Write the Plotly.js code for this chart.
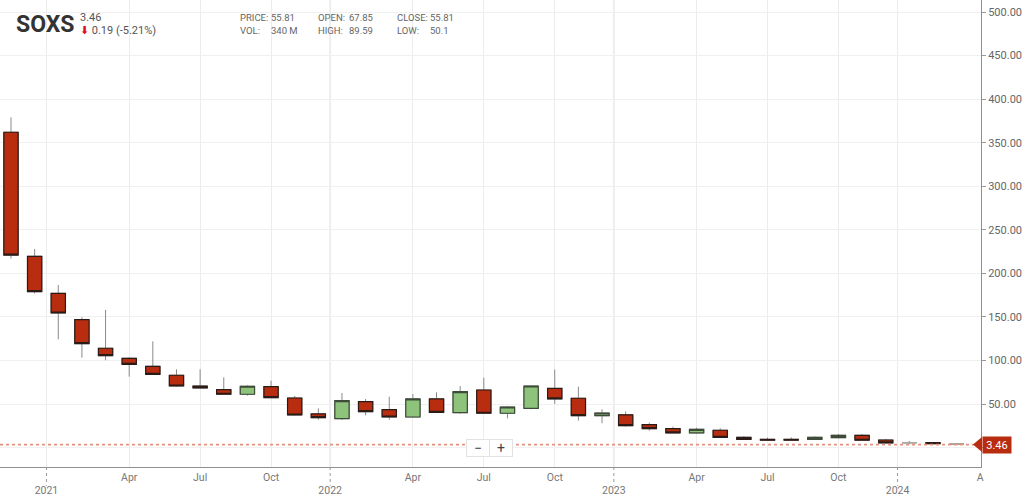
<!DOCTYPE html>
<html><head><meta charset="utf-8">
<script src="https://cdn.plot.ly/plotly-3.0.1.min.js"></script>
<style>html,body{margin:0;padding:0;background:#fff;} #chart{width:1024px;height:504px;}</style>
</head><body><div id="chart"></div>
<script>
// ---------- data (monthly candles, SOXS) ----------
const months = ['2020-11','2020-12','2021-01','2021-02','2021-03','2021-04','2021-05','2021-06','2021-07','2021-08','2021-09','2021-10',
  '2021-11','2021-12','2022-01','2022-02','2022-03','2022-04','2022-05','2022-06','2022-07','2022-08','2022-09','2022-10',
  '2022-11','2022-12','2023-01','2023-02','2023-03','2023-04','2023-05','2023-06','2023-07','2023-08','2023-09','2023-10',
  '2023-11','2023-12','2024-01','2024-02','2024-03'];
const openP  = [362, 219.6, 177, 146.8, 114, 102.5, 93.3, 83, 70.7, 66.5, 61.2, 70,
  56.9, 38.6, 33.2, 52.7, 43.5, 35.1, 55.8, 40.1, 66.1, 39.4, 45.1, 67.85,
  56.6, 36.6, 37.6, 26.3, 21.7, 16.8, 19.9, 11.8, 9.4, 9.4, 9.5, 11.4,
  14.1, 8.7, 5.6, 5.6, 4.1];
const highP  = [379, 228, 186.7, 149.6, 158, 103.7, 122, 89.9, 89.9, 80.7, 71.5, 76.8,
  59.2, 45.1, 62.7, 55.8, 58.4, 61.5, 63.5, 70.7, 80.2, 47.8, 71.1, 89.59,
  69.9, 44, 41.5, 28.6, 24, 22.8, 22.1, 13, 11.4, 11.8, 13, 15.6,
  15.6, 9.9, 7.6, 6.4, 5.3];
const lowP   = [217, 177, 124.3, 103.2, 100.2, 81.4, 83.5, 70, 68, 60.8, 59.6, 57,
  37, 32, 31.7, 37.1, 32, 34.5, 40, 38.9, 39, 33.6, 44, 50.1,
  30.9, 27.9, 24, 19.4, 16.5, 16, 11.5, 9.2, 8, 8.2, 9.3, 10.7,
  8.2, 5, 3.8, 4.3, 3.3];
const closeP = [221, 179, 154.5, 119.3, 105.5, 95.6, 84.1, 70.7, 68.4, 61.2, 70.4, 57.3,
  37.4, 34.3, 53.9, 41.2, 35.1, 55.8, 40.5, 64.2, 39.4, 46.6, 70.7, 55.81,
  36.6, 39.7, 25.1, 21.7, 16.8, 21, 11.8, 9.5, 8.4, 8.5, 11.8, 14.1,
  8.4, 5.3, 5.6, 4.5, 4.1];
const lastPrice = 3.46;
const symbol = 'SOXS';
const changeText = '0.19 (-5.21%)';
const infoLabels = ['PRICE:', 'VOL:', 'OPEN:', 'HIGH:', 'CLOSE:', 'LOW:'];
const infoValues = ['55.81', '340 M', '67.85', '89.59', '55.81', '50.1'];
const tickMonths = ['2021-01','2021-04','2021-07','2021-10','2022-01','2022-04','2022-07','2022-10',
  '2023-01','2023-04','2023-07','2023-10','2024-01','2024-04'];
const tickLabels = ['2021','Apr','Jul','Oct','2022','Apr','Jul','Oct','2023','Apr','Jul','Oct','2024','A'];
const yTicks = [0, 50, 100, 150, 200, 250, 300, 350, 400, 450, 500];

// ---------- helpers ----------
function monthIndex(m) {
  const [y0, m0] = months[0].split('-').map(Number);
  const [y, mm] = m.split('-').map(Number);
  return (y - y0) * 12 + (mm - m0);
}
const xIdx = months.map(monthIndex);
const isYear = tickMonths.map(m => m.endsWith('-01'));
const tickVals = tickMonths.map((m, k) => isYear[k] ? monthIndex(m) - 0.5 : monthIndex(m));
const tickText = tickLabels.map((t, k) => isYear[k] ? '<br>' + t : t);

const PW = 981, PH = 467; // plot area in px
const px = v => v / PW;
const py = v => (PH - v) / PH;

const RED = '#b82d0f', GREEN = '#8dc37a';

// wick layer (grey wicks)
const wicks = {
  type: 'candlestick', x: xIdx, open: openP, high: highP, low: lowP, close: closeP,
  increasing: {line: {color: '#8a8a8a', width: 1}, fillcolor: GREEN},
  decreasing: {line: {color: '#8a8a8a', width: 1}, fillcolor: RED},
  whiskerwidth: 0, hoverinfo: 'skip', showlegend: false
};
// body layer (dark outlines), non-flat candles
const bi = xIdx.filter((_, i) => openP[i] !== closeP[i]);
const bodies = {
  type: 'candlestick', x: bi,
  open: bi.map(i => openP[i]), close: bi.map(i => closeP[i]),
  high: bi.map(i => Math.max(openP[i], closeP[i])), low: bi.map(i => Math.min(openP[i], closeP[i])),
  increasing: {line: {color: '#3d4b38', width: 1.2}, fillcolor: GREEN},
  decreasing: {line: {color: '#2b1b16', width: 1.2}, fillcolor: RED},
  whiskerwidth: 0, hoverinfo: 'skip', showlegend: false
};
// flat candles (grey)
const fi = xIdx.filter((_, i) => openP[i] === closeP[i]);
const flats = {
  type: 'candlestick', x: fi,
  open: fi.map(i => openP[i]), close: fi.map(i => closeP[i]),
  high: fi.map(i => highP[i]), low: fi.map(i => lowP[i]),
  increasing: {line: {color: '#a8a8a8', width: 1.5}, fillcolor: '#cccccc'},
  decreasing: {line: {color: '#a8a8a8', width: 1.5}, fillcolor: '#cccccc'},
  whiskerwidth: 0, hoverinfo: 'skip', showlegend: false
};

const shapes = [];
// darker year gridlines + dotted year tick marks
tickVals.forEach((v, k) => {
  if (!isYear[k]) return;
  shapes.push({type: 'line', xref: 'x', yref: 'paper', x0: v, x1: v, y0: 0, y1: 1, layer: 'between',
    line: {color: '#d6d6d6', width: 1}});
  shapes.push({type: 'line', xref: 'x', yref: 'paper', x0: v, x1: v, y0: 0, y1: -0.04, layer: 'above',
    line: {color: '#999', width: 1, dash: 'dot'}});
});
// white header box
shapes.push({type: 'rect', xref: 'paper', yref: 'paper', x0: 0, x1: px(157), y0: py(45), y1: py(3),
  fillcolor: '#ffffff', line: {width: 0}, layer: 'between'});
// last price dashed line
shapes.push({type: 'line', xref: 'paper', yref: 'y', x0: 0, x1: 1, y0: lastPrice, y1: lastPrice,
  line: {color: '#e5947f', width: 1.8, dash: '3px,3px'}, layer: 'above'});
// price tag pointer
shapes.push({type: 'path', xref: 'paper', yref: 'y',
  path: `M ${px(973)},${lastPrice} L ${px(982)},${lastPrice + 8.6} L ${px(982)},${lastPrice - 8.6} Z`,
  fillcolor: RED, line: {width: 0}, layer: 'above'});

const F = 'Roboto, Arial, sans-serif';
const annotations = [
  {text: '<b>' + symbol + '</b>', xref: 'paper', yref: 'paper', x: px(14), y: py(24), xanchor: 'left', yanchor: 'middle',
    showarrow: false, font: {family: F, size: 23, color: '#333'}},
  {text: String(lastPrice), xref: 'paper', yref: 'paper', x: px(78), y: py(17), xanchor: 'left', yanchor: 'middle',
    showarrow: false, font: {family: F, size: 11, color: '#555'}},
  {text: '<span style="color:#e0101a">⬇</span> ' + changeText, xref: 'paper', yref: 'paper', x: px(78), y: py(30),
    xanchor: 'left', yanchor: 'middle', showarrow: false, font: {family: F, size: 11, color: '#555'}},
  // price tag
  {text: lastPrice.toFixed(2), xref: 'paper', yref: 'y', x: px(982), y: lastPrice, xanchor: 'left', yanchor: 'middle',
    showarrow: false, bgcolor: RED, borderpad: 2, width: 24, height: 12, font: {family: F, size: 11, color: '#fff'}},
  // zoom buttons
  {text: '−', xref: 'paper', yref: 'paper', x: px(477.5), y: py(448.3), xanchor: 'center', yanchor: 'middle',
    showarrow: false, bgcolor: '#fff', bordercolor: '#e2e2e2', borderwidth: 1, width: 20, height: 14,
    font: {family: F, size: 14, color: '#444'}},
  {text: '+', xref: 'paper', yref: 'paper', x: px(500.8), y: py(448.3), xanchor: 'center', yanchor: 'middle',
    showarrow: false, bgcolor: '#fff', bordercolor: '#e2e2e2', borderwidth: 1, width: 20, height: 14,
    font: {family: F, size: 14, color: '#444'}}
];
const colX = [238, 316, 395], valX = [269, 347, 428];
infoLabels.forEach((lab, k) => {
  const c = Math.floor(k / 2), r = k % 2;
  const yy = r === 0 ? 17 : 31;
  annotations.push({text: lab, xref: 'paper', yref: 'paper', x: px(colX[c]), y: py(yy), xanchor: 'left', yanchor: 'middle',
    showarrow: false, font: {family: F, size: 9.5, color: '#666'}});
  annotations.push({text: infoValues[k], xref: 'paper', yref: 'paper', x: px(valX[c]), y: py(yy), xanchor: 'left', yanchor: 'middle',
    showarrow: false, font: {family: F, size: 9.5, color: '#666'}});
});

const layout = {
  width: 1024, height: 504,
  margin: {l: 0, r: 1024 - PW, t: 0, b: 504 - PH, pad: 0},
  paper_bgcolor: '#fff', plot_bgcolor: '#fff',
  showlegend: false, hovermode: false,
  boxgap: 0.395, boxgroupgap: 0,
  xaxis: {
    range: [-0.465, 41.03], tickmode: 'array', tickvals: tickVals, ticktext: tickText,
    showgrid: true, gridcolor: '#ececec', gridwidth: 1, zeroline: false,
    ticks: '', showline: true, linecolor: '#8f8f8f', linewidth: 1,
    rangeslider: {visible: false}, fixedrange: true,
    tickfont: {family: F, size: 10.5, color: '#777'}
  },
  yaxis: {
    side: 'right', range: [-22.3, 513.8], tickmode: 'array', tickvals: yTicks,
    ticktext: yTicks.map(v => v === 0 ? '' : v.toFixed(2)),
    showgrid: true, gridcolor: '#f0f0f0', zeroline: false,
    showline: true, linecolor: '#8f8f8f', linewidth: 1,
    ticks: 'outside', ticklen: 4, tickcolor: '#999', fixedrange: true,
    tickfont: {family: F, size: 11, color: '#666'}
  },
  shapes: shapes,
  annotations: annotations
};

Plotly.newPlot('chart', [wicks, bodies, flats], layout, {displayModeBar: false, staticPlot: true});
</script>
</body></html>
